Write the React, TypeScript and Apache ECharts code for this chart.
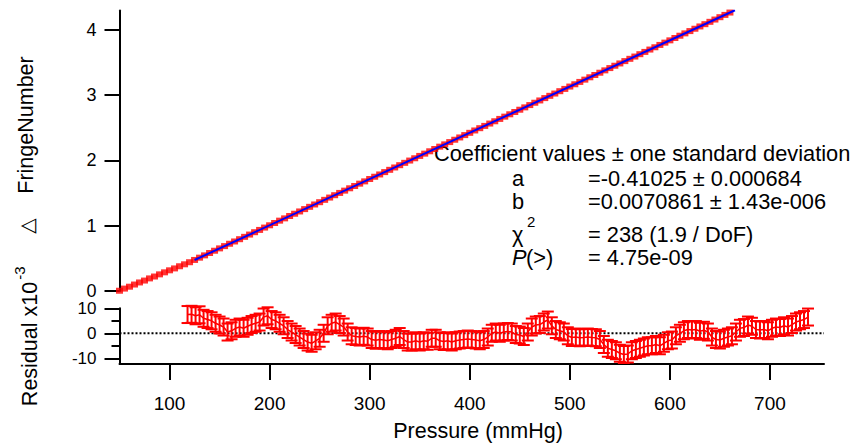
import React, { useEffect, useRef } from "react";
import * as echarts from "echarts";

const FONT = '"Liberation Sans", Arial, Helvetica, sans-serif';

const xTicks = [100, 200, 300, 400, 500, 600, 700];
const yTicks = [0, 1, 2, 3, 4];
const resMajorTicks = [-10, 0, 10];
const resMinorTicks = [-5, 5];

const pressure = [
  50, 55, 60, 65, 70, 75, 80, 85, 90, 95,
  100, 105, 110, 115, 120, 125, 130, 135, 140, 145,
  150, 155, 160, 165, 170, 175, 180, 185, 190, 195,
  200, 205, 210, 215, 220, 225, 230, 235, 240, 245,
  250, 255, 260, 265, 270, 275, 280, 285, 290, 295,
  300, 305, 310, 315, 320, 325, 330, 335, 340, 345,
  350, 355, 360, 365, 370, 375, 380, 385, 390, 395,
  400, 405, 410, 415, 420, 425, 430, 435, 440, 445,
  450, 455, 460, 465, 470, 475, 480, 485, 490, 495,
  500, 505, 510, 515, 520, 525, 530, 535, 540, 545,
  550, 555, 560, 565, 570, 575, 580, 585, 590, 595,
  600, 605, 610, 615, 620, 625, 630, 635, 640, 645,
  650, 655, 660, 665,
];

const fringe = [
  0.004, 0.037, 0.066, 0.099, 0.131, 0.160, 0.193, 0.222, 0.255, 0.286,
  0.317, 0.346, 0.379, 0.409, 0.441, 0.476, 0.511, 0.546, 0.582, 0.617,
  0.653, 0.688, 0.724, 0.759, 0.794, 0.830, 0.865, 0.901, 0.936, 0.972,
  1.007, 1.042, 1.078, 1.113, 1.149, 1.184, 1.219, 1.255, 1.290, 1.326,
  1.361, 1.397, 1.432, 1.468, 1.503, 1.538, 1.574, 1.609, 1.645, 1.680,
  1.716, 1.751, 1.786, 1.822, 1.857, 1.893, 1.928, 1.964, 1.999, 2.034,
  2.070, 2.105, 2.141, 2.176, 2.212, 2.247, 2.282, 2.318, 2.353, 2.389,
  2.424, 2.460, 2.495, 2.530, 2.566, 2.601, 2.637, 2.672, 2.708, 2.743,
  2.778, 2.814, 2.849, 2.885, 2.920, 2.956, 2.991, 3.026, 3.062, 3.097,
  3.133, 3.168, 3.204, 3.239, 3.275, 3.310, 3.345, 3.381, 3.416, 3.452,
  3.487, 3.523, 3.558, 3.593, 3.629, 3.664, 3.700, 3.735, 3.771, 3.806,
  3.841, 3.877, 3.912, 3.948, 3.983, 4.019, 4.054, 4.089, 4.125, 4.160,
  4.196, 4.231, 4.267, 4.302,
];

const fitLine = [
  [125, 0.4755],
  [665, 4.302],
];

const resPressure = [
  118, 122, 126, 130, 134, 138, 142, 146, 150, 154,
  158, 162, 166, 170, 174, 178, 182, 186, 190, 194,
  198, 202, 206, 210, 214, 218, 222, 226, 230, 234,
  238, 242, 246, 250, 254, 258, 262, 266, 270, 274,
  278, 282, 286, 290, 294, 298, 302, 306, 310, 314,
  318, 322, 326, 330, 334, 338, 342, 346, 350, 354,
  358, 362, 366, 370, 374, 378, 382, 386, 390, 394,
  398, 402, 406, 410, 414, 418, 422, 426, 430, 434,
  438, 442, 446, 450, 454, 458, 462, 466, 470, 474,
  478, 482, 486, 490, 494, 498, 502, 506, 510, 514,
  518, 522, 526, 530, 534, 538, 542, 546, 550, 554,
  558, 562, 566, 570, 574, 578, 582, 586, 590, 594,
  598, 602, 606, 610, 614, 618, 622, 626, 630, 634,
  638, 642, 646, 650, 654, 658, 662, 666, 670, 674,
  678, 682, 686, 690, 694, 698, 702, 706, 710, 714,
  718, 722, 726, 730, 734, 738,
];

const residual = [
  7.5, 7.6, 7.0, 7.4, 6.0, 5.5, 5.0, 4.0, 3.3, 2.5,
  0.5, 1.0, 2.0, 2.5, 2.0, 2.8, 3.5, 4.0, 4.5, 6.5,
  7.0, 5.5, 5.0, 4.0, 3.0, 1.5, 0.5, -0.5, -1.5, -2.5,
  -3.5, -4.0, -3.0, -2.0, 0.0, 3.0, 4.0, 4.5, 3.5, 2.5,
  0.5, -1.0, -1.3, -1.5, -1.2, -1.5, -2.5, -2.8, -2.5, -2.7,
  -3.0, -2.5, -2.0, -1.3, -2.5, -3.5, -3.5, -3.0, -3.5, -3.0,
  -3.2, -2.0, -2.0, -3.0, -3.3, -3.0, -3.5, -3.0, -2.7, -2.5,
  -2.3, -2.5, -2.7, -3.0, -2.5, -1.5, 0.0, 0.5, 0.0, 0.5,
  0.7, 0.5, -0.5, -0.7, -1.3, 0.5, 2.5, 3.3, 3.5, 4.5,
  5.3, 3.0, 1.5, 1.0, 0.5, -1.0, -1.7, -1.5, -1.8, -1.7,
  -1.5, -1.7, -1.8, -2.5, -4.5, -6.0, -6.5, -7.0, -8.0, -8.5,
  -8.3, -7.0, -6.5, -6.0, -5.5, -5.0, -5.0, -4.5, -5.0, -4.0,
  -3.0, -2.7, -1.0, 0.0, 1.0, 1.5, 1.3, 1.5, 0.8, 1.2,
  0.5, -1.5, -2.5, -2.7, -2.0, -1.5, -1.0, 0.5, 2.0, 2.3,
  3.3, 2.8, 1.5, 1.3, 1.5, 1.0, 2.0, 2.5, 2.3, 3.0,
  2.5, 3.5, 4.5, 5.0, 5.5, 6.5,
];

const resError = 3.4;

const X_MIN = 50;
const X_MAX = 754;

function buildOption() {
  const black = { color: "#000", width: 2 };
  const labelStyle = { fontSize: 19, color: "#000", fontFamily: FONT };

  const mainData = pressure.map((p, i) => [p, fringe[i]]);
  const resLine = resPressure.map((p, i) => [p, residual[i]]);
  const resBars = resPressure.map((p, i) => [p, residual[i], residual[i] - resError, residual[i] + resError]);

  const txt = (text: string, x: number, y: number, size: number, extra: any = {}) => ({
    type: "text",
    x,
    y,
    rotation: extra.rotation || 0,
    silent: true,
    style: {
      text,
      font: `${extra.italic ? "italic " : ""}${size}px ${extra.family || FONT}`,
      fill: "#000",
      textAlign: extra.align || "left",
      align: extra.align || "left",
      textVerticalAlign: "middle",
      verticalAlign: "middle",
    },
  });

  return {
    animation: false,
    backgroundColor: "#fff",
    grid: [
      { left: 119.5, top: 10.4, width: 704.5, height: 280.6 },
      { left: 119.5, top: 308.3, width: 704.5, height: 55.7 },
    ],
    xAxis: [
      { type: "value", gridIndex: 0, min: X_MIN, max: X_MAX, show: false },
      {
        type: "value",
        gridIndex: 1,
        min: X_MIN,
        max: X_MAX,
        axisLine: { show: true, onZero: false, lineStyle: black },
        axisTick: { show: true, inside: false, length: 16, lineStyle: black, customValues: xTicks },
        axisLabel: { ...labelStyle, margin: 30, customValues: xTicks },
        splitLine: { show: false },
      },
    ],
    yAxis: [
      {
        type: "value",
        gridIndex: 0,
        position: "left",
        min: 0,
        max: 4.3,
        axisLine: { show: true, onZero: false, lineStyle: black },
        axisTick: { show: true, inside: false, length: 15, lineStyle: black, customValues: yTicks },
        axisLabel: { ...labelStyle, fontSize: 18, lineHeight: 14, margin: 23, customValues: yTicks },
        splitLine: { show: false },
      },
      {
        type: "value",
        gridIndex: 1,
        position: "left",
        min: -12.3,
        max: 10,
        axisLine: { show: true, onZero: false, lineStyle: black },
        axisTick: { show: true, inside: false, length: 15, lineStyle: black, customValues: resMajorTicks },
        axisLabel: { ...labelStyle, fontSize: 17, lineHeight: 14, margin: 23, customValues: resMajorTicks },
        splitLine: { show: false },
      },
      {
        type: "value",
        gridIndex: 1,
        position: "left",
        min: -12.3,
        max: 10,
        axisLine: { show: false, onZero: false },
        axisTick: { show: true, inside: false, length: 8, lineStyle: black, customValues: resMinorTicks },
        axisLabel: { show: false },
        splitLine: { show: false },
      },
    ],
    series: [
      {
        type: "scatter",
        xAxisIndex: 0,
        yAxisIndex: 0,
        data: mainData,
        symbol: "rect",
        symbolSize: [7, 6],
        itemStyle: { color: "#ff0000" },
        z: 2,
      },
      {
        type: "line",
        xAxisIndex: 0,
        yAxisIndex: 0,
        data: fitLine,
        symbol: "none",
        lineStyle: { color: "#0000ff", width: 2 },
        z: 3,
      },
      {
        type: "line",
        xAxisIndex: 1,
        yAxisIndex: 1,
        data: [
          [X_MIN, 0],
          [X_MAX, 0],
        ],
        symbol: "none",
        lineStyle: { color: "#000", width: 2, type: [2, 2] },
        z: 1,
      },
      {
        type: "line",
        xAxisIndex: 1,
        yAxisIndex: 1,
        data: resLine,
        symbol: "none",
        lineStyle: { color: "#ff0000", width: 1.5 },
        z: 2,
      },
      {
        type: "custom",
        xAxisIndex: 1,
        yAxisIndex: 1,
        data: resBars,
        encode: { x: 0, y: [1, 2, 3] },
        z: 3,
        renderItem: (params: any, api: any) => {
          const x = api.value(0);
          const top = api.coord([x, api.value(3)]);
          const bot = api.coord([x, api.value(2)]);
          const hw = 6;
          const style = { stroke: "#ff0000", lineWidth: 2 };
          return {
            type: "group",
            children: [
              { type: "line", shape: { x1: top[0], y1: top[1], x2: bot[0], y2: bot[1] }, style },
              { type: "line", shape: { x1: top[0] - hw, y1: top[1], x2: top[0] + hw, y2: top[1] }, style },
              { type: "line", shape: { x1: bot[0] - hw, y1: bot[1], x2: bot[0] + hw, y2: bot[1] }, style },
            ],
          };
        },
      },
    ],
    graphic: [
      txt("FringeNumber", 26, 125, 21.5, { rotation: Math.PI / 2, align: "center" }),
      txt("\u25B3", 27, 226, 20, { rotation: Math.PI / 2, align: "center", family: '"DejaVu Sans", sans-serif' }),
      txt("Residual x10", 30, 344, 21.5, { rotation: Math.PI / 2, align: "center" }),
      txt("-3", 19, 273, 15, { rotation: Math.PI / 2, align: "center" }),
      txt("Pressure (mmHg)", 478, 431, 21.5, { align: "center" }),
      txt("Coefficient values \u00B1 one standard deviation", 434, 153, 21.8),
      txt("a", 512, 178, 21.8),
      txt("=-0.41025 \u00B1 0.000684", 588, 178, 21.8),
      txt("b", 512, 201, 21.8),
      txt("=0.0070861 \u00B1 1.43e-006", 588, 201, 21.8),
      txt("\u03C7", 512, 234, 21.8),
      txt("2", 527, 221, 15),
      txt("= 238 (1.9 / DoF)", 588, 234, 21.8),
      txt("P", 512, 257, 21.8, { italic: true }),
      txt("(>)", 526, 257, 21.8),
      txt("= 4.75e-09", 588, 257, 21.8),
    ],
  };
}

export default function App() {
  const ref = useRef<HTMLDivElement>(null);
  useEffect(() => {
    if (!ref.current) return;
    const chart = echarts.init(ref.current, null, { renderer: "svg" });
    chart.setOption(buildOption() as any);
    return () => chart.dispose();
  }, []);
  return (
    <div
      ref={ref}
      style={{ position: "fixed", left: 0, top: 0, width: 855, height: 446, background: "#fff" }}
    />
  );
}
